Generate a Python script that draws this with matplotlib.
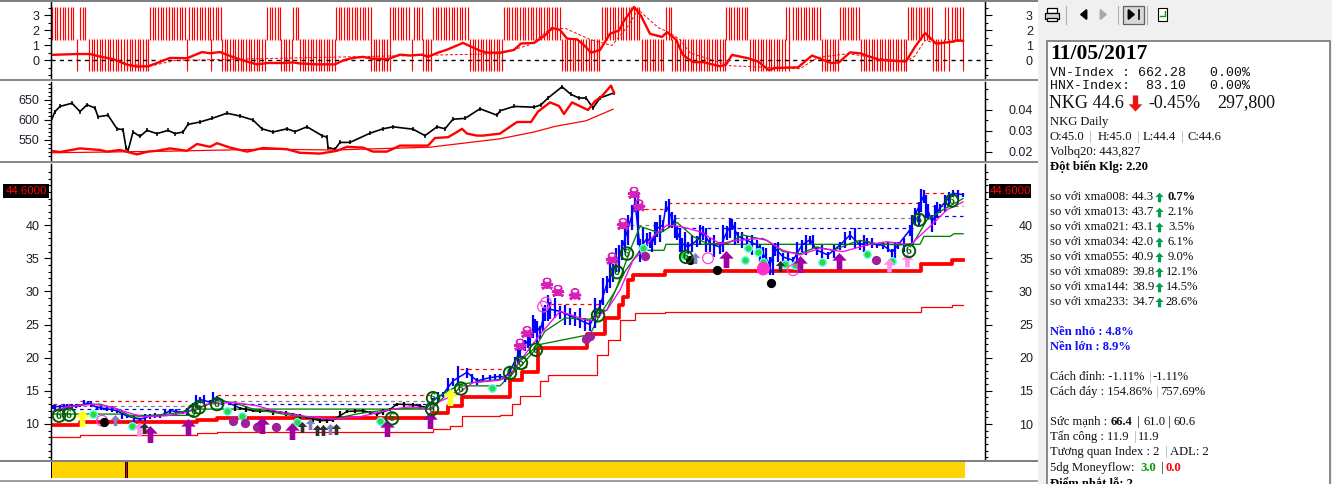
import numpy as np
import matplotlib
matplotlib.use("Agg")
import matplotlib.pyplot as plt
import matplotlib.patheffects as pe
from matplotlib.path import Path
from matplotlib.patches import Rectangle

W, H = 1332, 484
SANS = "Liberation Sans"
SERIF = "Liberation Serif"
MONO = "Liberation Mono"

# ---------- top oscillator ----------
upper_runs = [(52,75),(80,87),(150,168),(169,186),(189,212),(213,221),(267,280),(293,298),(336,370),
              (390,410),(414,423),(433,468),(504,561),(602,640),(666,671),(726,749),(786,788),(793,821),
              (840,860),(908,933),(945,948),(952,962)]
lower_runs = [(77,77),(89,125),(127,148),(187,187),(211,211),(222,265),(281,291),(300,335),(371,389),
              (412,412),(423,432),(470,503),(562,600),(642,665),(672,725),(750,784),(789,789),(822,839),
              (861,907),(933,944),(949,949),(963,963)]
osc_col = [50,77,90,100,113,127,137,148,157,170,187,202,210,220,230,243,257,267,283,293,300,317,335,343,
           353,363,373,388,400,410,422,428,437,447,463,480,487,500,514,521,534,545,552,560,567,577,584,
           591,600,610,619,624,634,641,650,662,667,676,683,693,703,720,726,732,748,758,769,775,798,812,
           831,839,850,860,879,906,915,925,936,951,958,963]
osc_val = [.37,.43,.43,.26,.09,-.28,-.41,-.39,-.17,.17,.15,.56,.48,.56,.3,0,-.26,-.17,-.17,-.13,-.2,-.26,
           -.26,0,.17,.24,.11,.09,.39,.33,.39,.24,.5,.72,1.17,.65,.52,.52,.7,1.13,1.17,1.67,2.17,2.04,
           1.46,1.41,1.02,.52,.7,1.78,2.0,2.65,3.57,2.98,1.78,1.57,1.89,1.39,.37,-.11,-.11,-.39,-.28,
           .37,.15,-.07,-.65,-.5,-.46,.33,-.17,-.13,.54,.48,.04,-.07,.91,1.83,1.13,1.24,1.35,1.3]
sig_col = [130,150,175,500,530,548,565,590,612,628,638,648,658,668,680,690,730,800,818,848,905,915,925,938,962]
sig_val = [-.25,-.38,0.0,.45,1.05,2.0,2.15,1.4,1.0,2.3,3.4,2.8,2.2,1.9,1.4,.5,-.35,-.55,.2,.45,-.1,.3,1.35,1.1,1.3]
osc_ticks = [0,1,2,3]

# ---------- middle panel ----------
idx_col = [50,55,60,72,80,87,95,98,108,117,123,126,128,133,140,147,157,168,175,183,188,200,212,227,240,
           253,262,273,287,295,307,322,327,328,335,340,350,370,383,393,413,425,437,445,453,465,480,497,
           500,514,534,541,548,562,571,579,586,593,600,614]
idx_val = [590,620,633,641,620,637,629,607,611,577,575,530,522,569,558,573,565,573,565,569,588,594,603,616,
           609,599,577,569,577,570,582,560,556,530,526,543,543,566,577,582,576,560,582,577,601,603,627,611,
           622,633,631,637,654,682,663,654,654,629,654,667]
rs_col = [50,60,80,100,107,120,137,148,157,170,187,197,210,217,230,247,263,287,300,320,337,347,363,373,387,
          400,413,428,435,448,455,462,467,477,483,500,507,517,531,538,550,559,564,572,588,595,602,611,614]
rs_val = [522,519,528,524,520,524,513,520,522,528,522,539,532,541,530,520,529,526,517,515,522,532,530,520,
          520,535,535,535,554,556,566,577,565,560,560,565,577,594,594,620,643,634,614,643,624,646,659,685,667]
rsma_col = [50,167,267,333,430,500,534,555,586,613]
rsma_val = [517,521,526,524,531,552,569,583,597,626]
idx_ticks = [550,600,650]
rs_ticks = [0.02,0.03,0.04]

# ---------- main price panel ----------
price_col = [53,67,80,88,97,107,117,127,140,150,160,170,183,193,200,210,217,230,240,253,267,280,293,307,320,
             333,347,363,377,390,397,413,427,433,443,453,467,477,490,500,505,510,515,520,525,530,535,540,
             545,550,560,575,590,600,607,613,622,625,632,635,640,647,652,657,663,666,672,677,682,688,697,
             703,710,720,727,732,738,747,757,763,770,775,783,793,802,810,817,828,840,850,860,867,877,883,
             892,898,910,915,924,928,932,940,953,963]
price_val = [12.6,12.7,12.8,13.2,12.5,12.3,12.0,11.2,10.7,11.2,11.2,12,11.8,12.8,13.7,13.3,13.9,13.1,12.4,
             12,12,11.8,11.5,11,10.5,10.6,11.9,12,11.5,12.2,13.0,12.9,12.5,13.6,14.5,16.5,17.8,16.5,17,
             17.2,17,18,19.5,21,22,23,25,24,27,27.3,27,26,25,27.8,31.2,33,36.5,38,41.5,43.5,36.5,38,37.2,
             39.5,40,43,41,39,37.2,36.7,37.7,39,37.2,36.7,39,40.2,38.3,37.7,37,35.7,34,36.5,35.2,34.7,37,
             37.8,36.2,35.5,37,38.5,37,37.5,37,37,35.9,37,39.3,41.5,44.5,42.2,40.5,42.6,44.8,44.6]
price_span = [.4,.4,.3,.4,.3,.3,.3,.3,.3,.4,.3,.3,.3,.5,.5,.4,.5,.3,.3,.2,.2,.2,.3,.2,.3,.3,.3,.3,.3,.3,.3,.3,
              .3,.4,.5,.7,.9,.6,.5,.5,.6,.8,.9,1,1,1.2,1.2,1.2,1.4,1.5,1.2,1.2,1,1.2,1.5,1.6,1.8,2,2.2,1.5,
              2,1.2,1.2,1.3,1,1,1.5,1.2,1.2,1,1,1.2,1.2,1,1.2,1,1,1,1,1.4,1.6,1.2,.9,.8,1,.7,.7,.6,.7,.8,.8,
              .7,.5,.6,.8,.6,1,1.5,1.2,1.4,1.5,.8,.6,.4]
wick_col = [55,60,64,72,76,84,91,101,112,122,134,145,155,165,176,187,196,204,213,222,
            235,246,260,273,286,300,313,327,340,355,370,383,404,420,
            438,448,458,472,483,495,518,528,533,537,543,548,555,565,570,580,585,595,603,610,616,619,628,638,
            643,650,655,660,669,675,680,685,692,700,706,714,723,730,735,742,752,760,766,773,778,788,797,806,
            813,822,834,845,855,864,872,888,895,904,912,919,921,926,935,937,945,949,958]
wick_low = [11.8,12,12,12.2,12.4,12.8,12.5,12.1,11.8,10.8,10.2,10.4,10.9,11.3,11.4,11.4,12.4,13,13.2,12.8,
            12,11.8,11.6,11.4,11.2,10.8,10.3,10.2,10.8,11.7,11.4,11.4,12.6,12.3,
            13.3,14.8,15.8,16.2,16.4,16.6,19,21.5,23,22,24,25.5,26,25,25,24.5,24,24.5,28,30.5,33,33,37,37,
            35.5,36.5,37,37.5,39.5,38,36,35.5,36,37,36,35.2,36,38,37,36.5,35.5,34,33,32.5,34.5,34,34.5,35.5,
            36.5,35,35,36.5,36.5,36,36.5,36,35,36,37,40,42,41,40,41,42,43,44]
wick_high = [12.9,12.8,13,13,13,13.6,13.5,12.9,12.7,11.7,11.2,11.5,11.6,12.2,12.2,12.4,14.4,14.3,14.8,13.7,
             13,12.7,12.3,12.1,11.9,11.5,11,10.9,11.9,12.3,12,12.3,13.3,13,
             14.8,17,18.8,17.5,17.4,17.6,22,24,26.5,25.5,27.5,29.5,29,28,27.5,27.5,26,29,32,35,36.5,37,41.5,44.5,
             39.5,39,40.5,41.5,44,41.5,39.5,39,38.5,40,39.5,38.5,40,41,40.5,39,38.5,37,36.5,37,37.5,36,37.5,38.5,
             38.5,37,37,39,39.5,38.5,38,37.5,37.5,38,41.5,43.5,45.5,44.5,43,43.5,44.5,45,45.3]
black_runs = [(235,336),(340,425)]

green_step_col = [50,124,126,194,196,432,440,447,455,461,500,510,520,540,590,600,615,625,640,650,664,666,920,924,950,954,963]
green_step_val = [11.5,11.5,11.3,11.3,12.25,12.25,13.5,14.5,14.7,15.75,15.75,17.3,18.6,22,23.5,26.5,30,33,36.2,36.2,36.2,37.1,37.1,38.3,38.3,38.7,38.7]
green_ma_col = [50,80,100,117,133,150,173,197,217,233,253,273,300,333,360,393,427,437,460,500,510,520,535,
                545,565,590,600,607,617,630,640,660,677,693,707,727,743,767,783,800,817,833,850,860,877,900,
                913,927,943,963]
green_ma_val = [11.75,12.9,13,12.25,11,11.25,11.6,12.25,13.5,13.25,12.25,11.75,11.1,10.75,11.6,12.25,12.5,14,
                16,16.75,17,19.5,21.5,24,26,25.8,27,27.2,30.7,36.2,39.8,38.8,40.4,38.3,37.2,37.2,38.5,37.7,
                36,35.7,36.7,36.2,37.2,37.7,37.2,37,37.2,40.8,42.3,44]
magenta_col = [50,67,93,113,127,143,167,187,207,233,257,277,300,333,360,393,410,430,437,457,473,500,510,525,
               540,560,590,607,620,633,643,653,667,680,700,720,737,763,783,800,820,843,867,887,910,930,947,963]
magenta_val = [11.75,12.6,13,12.5,11.75,11.1,11.25,11.75,13,13.25,12.75,11.9,11.25,10.75,11.1,12.25,12.6,12.25,
               13.25,14.5,16.25,16.6,17.5,20.5,23.5,27,25.5,27.2,30.2,34.7,36.2,38.3,40,39.8,39,37.2,37.7,38,
               36.2,35.5,36.5,36,37,37.5,37,39.8,42.3,43.5]
stop_col = [50,80,197,217,433,448,462,510,522,538,587,605,619,623,628,633,665,921,952,963]
stop_val = [9.85,10.25,10.6,10.9,11.6,12.75,14,16.6,17.8,21.5,23.5,26,27.9,29.2,31.7,32.5,33.1,34.2,34.7,34.7]
stop2_col = [50,80,197,217,433,450,462,500,512,520,540,548,597,608,620,635,665,921,952,963]
stop2_val = [8.1,8.35,8.6,8.85,9.25,9.75,11.25,11.35,13,14.2,16.5,17.4,20.4,22.7,25.7,26.7,26.9,27.6,28,28]

red_lvl = [(53,80,13),(80,187,13.4),(217,430,14.3),(460,505,18.3),(508,528,18.6),(550,600,28.1),(637,663,42.4),(668,918,43.4),(925,947,44.8)]
gray_lvl = [(53,187,12.65),(233,430,13.4),(630,660,40),(668,917,41),(932,963,42.9)]
blue_lvl = [(57,180,12.2),(220,430,13),(677,913,39.5),(937,963,41.3)]

six_col = [59,69,194,199,217,392,433,432,461,510,521,536,598,617,627,919,909,952,686]
six_val = [11.25,11.4,12,12.5,13,10.85,13.9,12.25,15.35,17.7,19.2,21.2,26.4,32.9,35.7,40.8,36.1,43.7,35.2]
skull_col = [634,639,623,612,547,558,575,527,520]
skull_val = [44.7,42.8,40,34.8,31,29.9,29.4,23.7,21.8]
ring_col = [543,102,708,763,793,546]
ring_val = [27.7,10.5,35,33.3,33.2,28.3]
thumb_col = [132,93,227,242,297,380,492,643,683,748,758,745,763,785,795,822,867,892]
thumb_val = [9.75,11.5,12,11.25,10.25,10.4,15.5,36.5,35.5,36.5,36,34.7,34.5,34.2,34,34.5,35.7,34.6]
purple_dot_col = [233,245,257,276,645,876,590,586]
purple_dot_val = [10.5,10.1,9.6,9.6,35.3,34.7,23.2,22.8]
black_dot_col = [104,690,717,771]
black_dot_val = [10.35,34.7,33.2,31.2]
big_arrow_col = [150,188,262,292,387,430,726,800,839]
big_arrow_val = [8.5,9.6,9.9,9,9.4,10.6,34.9,34.1,34.6]
yellow_arrow_col = [82,450]
yellow_arrow_val = [10.9,14]
pink_arrow_col = [907,889,139]
pink_arrow_val = [34.7,34,9.3]
slate_arrow_col = [115,310,330,695]
slate_arrow_val = [10.6,10,9.3,35]
black_arrow_col = [144,302,317,323,336,780]
black_arrow_val = [9.4,9.6,9.1,9.1,9.2,33.8]
price_ticks = [10,15,20,25,30,35,40]
last_label = "44.6000"

def in_runs(c, runs):
    return any(a <= c <= b for a, b in runs)

UP = [(0,1),(.85,.1),(.33,.1),(.33,-1),(-.33,-1),(-.33,.1),(-.85,.1),(0,1)]
CODES = [Path.MOVETO]+[Path.LINETO]*6+[Path.CLOSEPOLY]
ARROW = Path(UP, CODES)
DOWN = Path([(x, -y) for x, y in UP], CODES)

fig = plt.figure(figsize=(W/100, H/100), dpi=100, facecolor="white")
plt.rcParams["font.family"] = SANS

def panel(y0, y1, ylim):
    ax = fig.add_axes([51/W, 1-y1/H, (985-51)/W, (y1-y0)/H])
    ax.set_xlim(51, 985)
    ax.set_ylim(*ylim)
    ax.set_xticks([])
    for s in ("top", "bottom"):
        ax.spines[s].set_visible(False)
    for s in ("left", "right"):
        ax.spines[s].set_linewidth(1.0)
    return ax

def style_y(ax, major, minor, fmt=None):
    ax.set_yticks(major)
    ax.set_yticks(minor, minor=True)
    if fmt:
        ax.set_yticklabels([fmt % m for m in major])
    ax.tick_params(axis="y", which="major", length=5, width=.8, labelsize=9, pad=3.5, labelcolor="#1c1c2c")
    ax.tick_params(axis="y", which="minor", length=2.4, width=.8)

def style_right(ax, major, minor, fmt=None):
    ax.yaxis.tick_right()
    ax.set_yticks(major)
    ax.set_yticks(minor, minor=True)
    if fmt:
        ax.set_yticklabels([fmt % m for m in major])
    ax.tick_params(axis="y", which="major", length=5, width=.8, labelsize=9, pad=29.5, labelcolor="#1c1c2c")
    ax.tick_params(axis="y", which="minor", length=2.4, width=.8)
    for t in ax.yaxis.get_major_ticks():
        t.label2.set_ha("right")

# Top panel
a1 = panel(2, 78, (-1.17, 3.9))
style_y(a1, osc_ticks, [-1,-.5,.5,1.5,2.5,3.5])
r1 = a1.twinx(); r1.set_ylim(a1.get_ylim())
for s in ("top","bottom"): r1.spines[s].set_visible(False)
style_right(r1, osc_ticks, [-1,-.5,.5,1.5,2.5,3.5])
for a, b in upper_runs:
    a1.vlines(np.arange(a, b+1, 2.67), 1.38, 3.55, color="#ff0000", lw=0.85)
for a, b in lower_runs:
    a1.vlines(np.arange(a, b+1, 2.67), -.68, 1.42, color="#ff0000", lw=0.85)
a1.axhline(0, color="black", lw=1.0, ls=(0, (3, 3)), zorder=3)
a1.plot(sig_col, sig_val, color="#ff0000", lw=.7, ls=(0,(3,2)), zorder=4)
a1.plot(osc_col, osc_val, color="#ff0000", lw=1.7, zorder=5)

# Middle panel
a2 = panel(82, 160, (499, 694))
style_y(a2, idx_ticks, np.arange(510, 691, 10))
r2 = a2.twinx()
r2.set_ylim(0.0162, 0.0532)
for s in ("top","bottom"): r2.spines[s].set_visible(False)
style_right(r2, rs_ticks, [0.015+0.005*i for i in range(1,8)], "%.2f")
a2.plot(idx_col, idx_val, color="black", lw=1.2, marker="|", ms=3.5, mew=1.1, zorder=3)
a2.plot(rsma_col, rsma_val, color="#ff0000", lw=.9, zorder=4)
a2.plot(rs_col, rs_val, color="#ff0000", lw=1.7, zorder=5)

# Main panel
ylim3 = (10-(460-424)/6.63, 10+(424-164)/6.63)
a3 = panel(164, 460, ylim3)
style_y(a3, price_ticks, np.arange(5, 49, 1))
r3 = a3.twinx(); r3.set_ylim(ylim3)
for s in ("top","bottom"): r3.spines[s].set_visible(False)
style_right(r3, price_ticks, np.arange(5, 49, 1))

for lv, c in ((red_lvl, "#ff0000"), (gray_lvl, "#808080"), (blue_lvl, "#0000ff")):
    for a, b, v in lv:
        a3.plot([a, b], [v, v], color=c, lw=.9, ls=(0, (3, 3)), zorder=2)

a3.plot(stop2_col, stop2_val, color="#ff0000", lw=.9, drawstyle="steps-post", zorder=2)
a3.plot(stop_col, stop_val, color="#ff0000", lw=2.7, drawstyle="steps-post", zorder=2.5)
a3.plot(green_step_col, green_step_val, color="#008000", lw=.95, zorder=3)
for i in range(len(price_col)-1):
    c = "black" if in_runs(price_col[i], black_runs) else "#0000ff"
    a3.plot(price_col[i:i+2], price_val[i:i+2], color=c, lw=1.1, zorder=3.2)
for x, v, s in zip(price_col, price_val, price_span):
    c = "black" if in_runs(x, black_runs) else "#0000ff"
    a3.vlines(x, v-s, v+s*.7, color=c, lw=1.6, zorder=3.2)
for x, lo, hi in zip(wick_col, wick_low, wick_high):
    c = "black" if in_runs(x, black_runs) else "#0000ff"
    a3.vlines(x, lo, hi, color=c, lw=1.6, zorder=3.2)
a3.plot(green_ma_col, green_ma_val, color="#008000", lw=.95, zorder=3.5)
a3.plot(magenta_col, magenta_val, color="#ff00ff", lw=.95, zorder=3.6)

a3.scatter(thumb_col, thumb_val, s=30, facecolor="#30d840", edgecolor="#60ffff", linewidth=1.0, zorder=5)
a3.scatter(ring_col, ring_val, s=60, facecolor="none", edgecolor="#ff40e0", linewidth=.9, zorder=5)
a3.scatter([763], [33.6], s=70, color="#ff30d0", zorder=5)
a3.scatter(purple_dot_col, purple_dot_val, s=32, color="#a0209a", zorder=5)
a3.scatter(black_dot_col, black_dot_val, s=32, color="black", zorder=5)
a3.scatter(big_arrow_col, big_arrow_val, s=150, marker=ARROW, color="#a000a0", linewidth=0, zorder=6)
a3.scatter(yellow_arrow_col, yellow_arrow_val, s=150, marker=ARROW, color="#ffff20", linewidth=0, zorder=6)
a3.scatter(pink_arrow_col, pink_arrow_val, s=100, marker=ARROW, color="#ff90f0", linewidth=0, zorder=6)
a3.scatter(slate_arrow_col, slate_arrow_val, s=64, marker=ARROW, color="#8080c0", linewidth=0, zorder=6)
a3.scatter(black_arrow_col, black_arrow_val, s=64, marker=ARROW, color="#303030", linewidth=0, zorder=6)
for x, v in zip(skull_col, skull_val):
    a3.text(x, v, "\u2620", family="DejaVu Sans", fontsize=11, color="#d820b8", ha="center", va="center", zorder=6,
            path_effects=[pe.withStroke(linewidth=.7, foreground="#d820b8")])
a3.scatter(six_col, six_val, s=80, facecolor="none", edgecolor="#005a00", linewidth=1.4, zorder=7)
for x, v in zip(six_col, six_val):
    a3.text(x, v, "6", family=SERIF, weight="bold", fontsize=8.5, color="#006400", ha="center", va="center", zorder=7)

# ---------- overlay in pixel coordinates (window furniture and side panel) ----------
ov = fig.add_axes([0, 0, 1, 1], zorder=10)
ov.set_xlim(0, W); ov.set_ylim(H, 0); ov.axis("off"); ov.patch.set_alpha(0)

for y, c, h in ((0, "#808080", 1.5), (79, "#8a8a8a", 2), (161, "#8a8a8a", 2), (460, "#808080", 1.5), (479.5, "#a0a0a0", 2)):
    ov.add_patch(Rectangle((0, y), 1038, h, color=c, lw=0))
# time strip
ov.add_patch(Rectangle((51, 462), 914, 16, color="#ffd400", lw=0))
ov.add_patch(Rectangle((51, 462), 1, 16, color="black", lw=0))
ov.add_patch(Rectangle((125, 462), 3, 16, color="black", lw=0))
ov.add_patch(Rectangle((126, 462), 1, 16, color="#ff0000", lw=0))
# last-price labels
for x0, x1 in ((3, 49), (989, 1031)):
    ov.add_patch(Rectangle((x0, 184), x1-x0, 14, color="black", lw=0))
    ov.text((x0+x1)/2, 191, last_label, color="#ff0000", fontsize=8.2, ha="center", va="center", family=SANS)

# side panel
ov.add_patch(Rectangle((1038, 0), 294, 484, color="#f0f0f0", lw=0))
ov.add_patch(Rectangle((1046.5, 41), 283, 446, facecolor="white", edgecolor="#808080", lw=1.3))
for x in (1066, 1118, 1147):
    ov.plot([x, x], [6, 24], color="#b0b0b0", lw=.8)
# printer
ov.add_patch(Rectangle((1047, 8), 10, 5, facecolor="white", edgecolor="black", lw=.9))
ov.add_patch(Rectangle((1045, 13), 14, 6, facecolor="#d0d0d0", edgecolor="black", lw=.9))
ov.add_patch(Rectangle((1047, 18), 10, 3, facecolor="white", edgecolor="black", lw=.9))
# navigation
ov.annotate("", xy=(1077, 14.5), xytext=(1088, 14.5), arrowprops=dict(arrowstyle="-|>,head_width=.3,head_length=.35", color="black", lw=1.6))
ov.annotate("", xy=(1110, 14.5), xytext=(1099, 14.5), arrowprops=dict(arrowstyle="-|>,head_width=.3,head_length=.35", color="#a8a8a8", lw=1.6))
ov.add_patch(Rectangle((1123, 6), 21, 18, facecolor="#d8d8d8", edgecolor="#606060", lw=.9))
ov.annotate("", xy=(1138, 14.5), xytext=(1128, 14.5), arrowprops=dict(arrowstyle="-|>,head_width=.3,head_length=.35", color="black", lw=1.6))
ov.plot([1139, 1139], [10, 19], color="black", lw=1.2)
ov.add_patch(Rectangle((1158, 8), 9, 13, facecolor="white", edgecolor="black", lw=.8))
ov.plot([1160, 1165, 1165], [16, 16, 11], color="#00a000", lw=1)

FS = 9.1
def t(x, y, s, **k):
    k.setdefault("family", SERIF); k.setdefault("fontsize", FS); k.setdefault("color", "#101010")
    ov.text(x, y, s, va="center", ha="left", **k)

PIPE = "#90a8c0"
t(1050, 54, "11/05/2017", fontsize=15.6, weight="bold", color="black")
t(1050, 73, "VN-Index : 662.28   0.00%", family=MONO, fontsize=9.5)
t(1050, 86, "HNX-Index:  83.10   0.00%", family=MONO, fontsize=9.5)
t(1049, 103, "NKG 44.6", fontsize=13)
ov.scatter([1135], [103], s=135, marker=DOWN, color="#ee1111", linewidth=0)
t(1148, 103, "-0.45%", fontsize=13)
t(1217, 103, "297,800", fontsize=13)
t(1050, 122, "NKG Daily")
for x, s, c in ((1050,"O:45.0",None),(1089,"|",PIPE),(1098,"H:45.0",None),(1137,"|",PIPE),(1143,"L:44.4",None),(1181,"|",PIPE),(1188,"C:44.6",None)):
    t(x, 137, s, **({"color":c} if c else {}))
t(1050, 152, "Volbq20: 443,827")
t(1050, 167, "Đột biến Klg: 2.20", weight="bold", color="black")

ma_names = ["xma008","xma013","xma021","xma034","xma055","xma089","xma144","xma233"]
ma_vals = ["44.3","43.7","43.1","42.0","40.9","39.8","38.9","34.7"]
ma_pcts = ["0.7%","2.1%","3.5%","6.1%","9.0%","12.1%","14.5%","28.6%"]
ma_rows = [197,212,227,242,257,272,287,302]
for i, (n, v, p, y) in enumerate(zip(ma_names, ma_vals, ma_pcts, ma_rows)):
    t(1050, y, "so với %s:" % n)
    t(1132, y, v)
    ov.scatter([1159], [y], s=48, marker=ARROW, color="#00a050", linewidth=0)
    t(1166 if len(p) > 4 else 1168, y, p, **({"weight":"bold"} if i == 0 else {}))

t(1050, 332, "Nền nhỏ : 4.8%", weight="bold", color="#1010ff")
t(1050, 347, "Nền lớn : 8.9%", weight="bold", color="#1010ff")
t(1050, 377, "Cách đỉnh: -1.11%")
t(1149, 377, "|", color=PIPE); t(1153, 377, "-1.11%")
t(1050, 392, "Cách đáy : 154.86%")
t(1156, 392, "|", color=PIPE); t(1160, 392, "757.69%")
t(1050, 422, "Sức mạnh :")
t(1111, 422, "66.4", weight="bold")
t(1137, 422, "|"); t(1143, 422, "61.0"); t(1168, 422, "|"); t(1173, 422, "60.6")
t(1050, 437, "Tấn công : 11.9")
t(1134, 437, "|", color=PIPE); t(1138, 437, "11.9")
t(1050, 452, "Tương quan Index : 2")
t(1165, 452, "|", color=PIPE); t(1170, 452, "ADL: 2")
t(1050, 468, "5dg Moneyflow:")
t(1140, 468, "3.0", weight="bold", color="#00a000")
t(1161, 468, "|")
t(1166, 468, "0.0", weight="bold", color="#ff0000")
t(1050, 484, "Điểm nhắt lỗ: 2", weight="bold", color="black")

fig.savefig("out.png", dpi=100)
